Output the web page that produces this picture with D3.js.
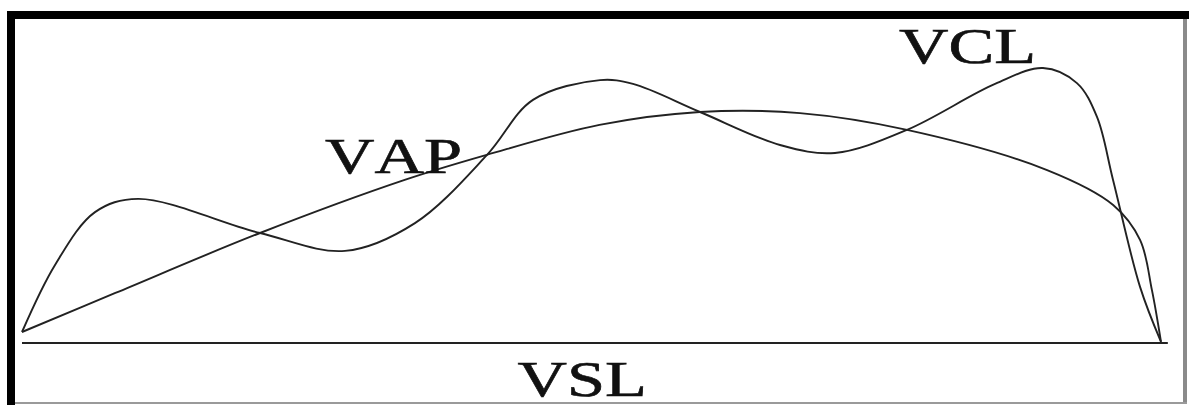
<!DOCTYPE html>
<html>
<head>
<meta charset="utf-8">
<script src="https://cdn.jsdelivr.net/npm/d3@7"></script>
<style>
  html, body { margin: 0; padding: 0; background: #fff; }
  svg { display: block; }
</style>
</head>
<body>
<div id="chart"></div>
<script>
// sample positions along the path (0 = start, 100 = end)
const vclX = [0, 2.9, 6.41, 10.19, 20.9, 28.36, 34.5, 40.83, 44.86, 50.75, 53.64, 59.53, 66.55, 71.38, 77.7, 85.43, 89.64, 92.62, 94.38, 95.79, 98.16, 100];
const vclY = [4, 28.4, 47.6, 52.4, 40, 33.5, 43.6, 68.4, 88.4, 95.6, 94.2, 84, 72, 69.1, 77.5, 94.2, 100, 94.5, 82.2, 59.3, 20.4, 0.4];

const vapX = [0, 8.2, 20.9, 33.6, 40.8, 50.7, 59.5, 68.3, 77.7, 90, 95.8, 98.16, 99.2, 100];
const vapY = [4, 18.2, 40, 59.3, 68.4, 79.3, 84, 83.6, 77.5, 62.9, 50.2, 37.5, 19.3, 0.4];

const vslX = [0, 100.6];
const vslY = [0, 0];

const labels = ["VCL", "VAP", "VSL"];
const labelAt = [[77, 101.8], [26.6, 62], [43.5, -19.2]];

const width = 1189;
const height = 405;

const x = d3.scaleLinear().domain([0, 100]).range([22, 1161]);
const y = d3.scaleLinear().domain([0, 100]).range([343, 68]);

const svg = d3.select("#chart")
  .append("svg")
    .attr("width", width)
    .attr("height", height);

// frame like the scanned figure
svg.append("rect").attr("x", 7).attr("y", 11).attr("width", width - 7).attr("height", 8).attr("fill", "#000");
svg.append("rect").attr("x", 7).attr("y", 11).attr("width", 8).attr("height", height - 11).attr("fill", "#000");
svg.append("rect").attr("x", 1183).attr("y", 19).attr("width", 4).attr("height", 385).attr("fill", "#8a8a8a");
svg.append("rect").attr("x", 15).attr("y", 402).attr("width", 1172).attr("height", 2).attr("fill", "#9a9a9a");

const line = d3.line()
  .x(d => x(d[0]))
  .y(d => y(d[1]))
  .curve(d3.curveCatmullRom.alpha(0.5));

const series = [
  d3.zip(vclX, vclY),
  d3.zip(vapX, vapY),
  d3.zip(vslX, vslY)
];

svg.append("g")
  .selectAll("path")
  .data(series)
  .join("path")
    .attr("d", line)
    .attr("fill", "none")
    .attr("stroke", "#222")
    .attr("stroke-width", 1.9)
    .attr("stroke-linejoin", "round");

svg.append("g")
  .selectAll("text")
  .data(labels)
  .join("text")
    .attr("transform", (d, i) => `translate(${x(labelAt[i][0])},${y(labelAt[i][1])}) scale(1.37,1)`)
    .attr("font-family", "'Liberation Serif', 'Times New Roman', serif")
    .attr("font-size", 50)
    .attr("style", "font-kerning: none;")
    .attr("fill", "#111")
    .attr("stroke", "#111")
    .attr("stroke-width", 0.6)
    .text(d => d);
</script>
</body>
</html>
